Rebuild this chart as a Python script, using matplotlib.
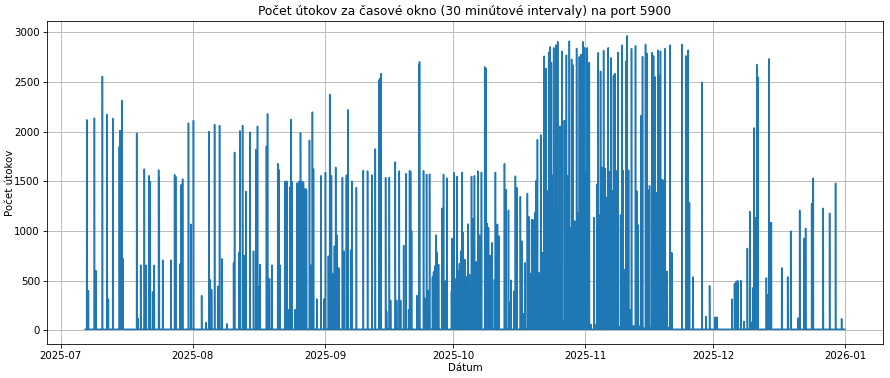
import matplotlib
matplotlib.use("Agg")
import matplotlib.pyplot as plt
import matplotlib.dates as mdates
import pandas as pd

# --- data (30-minute windows) ---
start_time = "2025-07-06 18:00"
end_time = "2025-12-31 22:00"
baseline_count = 12  # typical count in quiet windows

spike_times = [
    "2025-07-07 03:00", "2025-07-07 12:00", "2025-07-08 22:00", "2025-07-09 06:00",
    "2025-07-10 19:00", "2025-07-11 21:30", "2025-07-12 04:30", "2025-07-13 05:30",
    "2025-07-14 18:30", "2025-07-14 22:30", "2025-07-15 08:00", "2025-07-15 13:30",
    "2025-07-18 20:00", "2025-07-19 02:00", "2025-07-19 18:30", "2025-07-20 15:00",
    "2025-07-21 00:30", "2025-07-21 17:30", "2025-07-22 00:30", "2025-07-22 14:00",
    "2025-07-22 23:00", "2025-07-23 23:30", "2025-07-24 03:00", "2025-07-24 22:30",
    "2025-07-26 21:00", "2025-07-27 17:30", "2025-07-27 23:30", "2025-07-29 01:00",
    "2025-07-29 07:00", "2025-07-29 14:30", "2025-07-30 23:30", "2025-07-31 13:30",
    "2025-08-01 03:30", "2025-08-03 01:30", "2025-08-04 03:30", "2025-08-04 18:30",
    "2025-08-05 00:00", "2025-08-05 09:30", "2025-08-06 02:30", "2025-08-06 22:30",
    "2025-08-07 06:30", "2025-08-07 19:30", "2025-08-08 23:30", "2025-08-10 13:30",
    "2025-08-10 19:00", "2025-08-11 20:30", "2025-08-12 00:30", "2025-08-12 16:00",
    "2025-08-13 01:00", "2025-08-13 10:30", "2025-08-14 09:00", "2025-08-15 05:30",
    "2025-08-15 18:30", "2025-08-16 04:00", "2025-08-16 13:00", "2025-08-16 17:00",
    "2025-08-18 06:30", "2025-08-18 12:30", "2025-08-18 23:30", "2025-08-19 14:00",
    "2025-08-20 22:00", "2025-08-21 04:00", "2025-08-21 11:00", "2025-08-22 13:30",
    "2025-08-22 19:00", "2025-08-23 01:00", "2025-08-23 13:30", "2025-08-23 17:30",
    "2025-08-23 23:30", "2025-08-24 06:30", "2025-08-24 23:30", "2025-08-25 09:00",
    "2025-08-25 14:30", "2025-08-25 22:00", "2025-08-26 06:00", "2025-08-26 15:00",
    "2025-08-26 22:30", "2025-08-27 10:00", "2025-08-27 15:30", "2025-08-28 08:30",
    "2025-08-28 15:30", "2025-08-29 01:00", "2025-08-29 07:00", "2025-08-30 01:30",
    "2025-08-31 01:30", "2025-08-31 18:30", "2025-09-01 02:30", "2025-09-01 19:00",
    "2025-09-02 02:30", "2025-09-02 12:00", "2025-09-02 19:30", "2025-09-03 05:00",
    "2025-09-03 12:00", "2025-09-03 19:30", "2025-09-04 05:00", "2025-09-05 02:00",
    "2025-09-05 11:00", "2025-09-06 00:30", "2025-09-06 09:00", "2025-09-07 00:30",
    "2025-09-07 07:30", "2025-09-08 08:30", "2025-09-09 23:30", "2025-09-10 23:30",
    "2025-09-12 00:00", "2025-09-12 19:00", "2025-09-13 15:30", "2025-09-13 19:30",
    "2025-09-14 02:30", "2025-09-15 05:00", "2025-09-15 10:30", "2025-09-16 02:00",
    "2025-09-16 09:00", "2025-09-17 11:30", "2025-09-17 19:00", "2025-09-18 10:00",
    "2025-09-18 17:30", "2025-09-19 10:30", "2025-09-19 23:00", "2025-09-20 14:30",
    "2025-09-20 20:00", "2025-09-21 01:30", "2025-09-21 07:00", "2025-09-22 13:00",
    "2025-09-23 00:30", "2025-09-23 04:00", "2025-09-24 02:30", "2025-09-24 08:30",
    "2025-09-24 19:30", "2025-09-25 03:00", "2025-09-25 12:30", "2025-09-26 05:00",
    "2025-09-26 11:00", "2025-09-26 18:00", "2025-09-26 23:30", "2025-09-27 07:30",
    "2025-09-27 15:00", "2025-09-28 11:30", "2025-09-28 19:00", "2025-09-29 06:30",
    "2025-09-29 13:30", "2025-09-30 16:00", "2025-09-30 20:00", "2025-10-01 05:00",
    "2025-10-01 14:30", "2025-10-02 00:00", "2025-10-02 05:30", "2025-10-02 13:00",
    "2025-10-02 20:00", "2025-10-03 04:00", "2025-10-03 09:30", "2025-10-03 18:30",
    "2025-10-04 04:30", "2025-10-04 14:00", "2025-10-04 21:00", "2025-10-05 08:30",
    "2025-10-05 15:30", "2025-10-06 01:00", "2025-10-06 11:00", "2025-10-06 20:00",
    "2025-10-07 05:30", "2025-10-07 16:30", "2025-10-08 11:00", "2025-10-08 19:00",
    "2025-10-09 00:30", "2025-10-09 08:00", "2025-10-09 19:00", "2025-10-10 04:30",
    "2025-10-10 17:30", "2025-10-10 23:00", "2025-10-11 10:30", "2025-10-11 20:00",
    "2025-10-13 02:00", "2025-10-13 11:30", "2025-10-14 00:30", "2025-10-14 10:00",
    "2025-10-14 15:30", "2025-10-15 08:30", "2025-10-15 15:30", "2025-10-15 23:00",
    "2025-10-16 19:30", "2025-10-17 03:00", "2025-10-17 12:30", "2025-10-17 22:00",
    "2025-10-18 11:00", "2025-10-18 18:30", "2025-10-19 05:30", "2025-10-19 11:00",
    "2025-10-19 19:00", "2025-10-20 00:30", "2025-10-20 06:30", "2025-10-20 12:00",
    "2025-10-20 19:30", "2025-10-21 05:00", "2025-10-21 14:00", "2025-10-21 23:30",
    "2025-10-22 09:00", "2025-10-22 16:00", "2025-10-22 20:00", "2025-10-23 07:30",
    "2025-10-23 11:00", "2025-10-23 18:30", "2025-10-24 02:00", "2025-10-24 11:30",
    "2025-10-24 15:00", "2025-10-25 00:30", "2025-10-25 04:30", "2025-10-25 13:30",
    "2025-10-25 19:00", "2025-10-26 03:00", "2025-10-26 10:00", "2025-10-26 14:00",
    "2025-10-26 21:30", "2025-10-27 03:00", "2025-10-27 14:30", "2025-10-27 21:30",
    "2025-10-28 03:00", "2025-10-28 07:00", "2025-10-28 12:30", "2025-10-28 20:00",
    "2025-10-29 04:00", "2025-10-29 13:00", "2025-10-29 17:00", "2025-10-30 00:00",
    "2025-10-30 08:00", "2025-10-30 15:30", "2025-10-31 01:00", "2025-10-31 12:00",
    "2025-10-31 21:00", "2025-11-01 05:00", "2025-11-01 12:00", "2025-11-01 23:30",
    "2025-11-02 09:00", "2025-11-03 02:00", "2025-11-03 09:00", "2025-11-03 19:00",
    "2025-11-04 02:00", "2025-11-04 09:30", "2025-11-04 15:00", "2025-11-04 23:00",
    "2025-11-05 08:00", "2025-11-05 17:30", "2025-11-06 00:30", "2025-11-06 04:30",
    "2025-11-06 10:00", "2025-11-06 17:30", "2025-11-07 01:30", "2025-11-07 08:30",
    "2025-11-07 16:00", "2025-11-08 00:00", "2025-11-08 05:30", "2025-11-08 17:00",
    "2025-11-09 00:00", "2025-11-09 07:30", "2025-11-09 15:30", "2025-11-09 21:00",
    "2025-11-10 06:00", "2025-11-10 13:30", "2025-11-10 21:00", "2025-11-11 04:30",
    "2025-11-11 12:00", "2025-11-11 21:00", "2025-11-12 08:30", "2025-11-12 19:30",
    "2025-11-13 03:30", "2025-11-13 11:00", "2025-11-13 22:00", "2025-11-14 03:30",
    "2025-11-14 11:00", "2025-11-14 20:30", "2025-11-15 04:00", "2025-11-15 11:30",
    "2025-11-15 19:00", "2025-11-16 02:30", "2025-11-16 08:00", "2025-11-16 17:30",
    "2025-11-17 01:00", "2025-11-17 10:30", "2025-11-17 20:00", "2025-11-18 03:00",
    "2025-11-18 09:00", "2025-11-18 16:00", "2025-11-19 01:30", "2025-11-19 11:30",
    "2025-11-19 18:30", "2025-11-20 06:00", "2025-11-20 15:30", "2025-11-20 22:30",
    "2025-11-21 08:00", "2025-11-23 16:30", "2025-11-24 15:00", "2025-11-25 04:00",
    "2025-11-25 11:00", "2025-11-26 08:00", "2025-11-28 09:00", "2025-11-29 07:30",
    "2025-11-30 04:30", "2025-12-01 11:30", "2025-12-01 17:00", "2025-12-01 23:30",
    "2025-12-05 09:30", "2025-12-06 01:00", "2025-12-06 11:00", "2025-12-06 19:00",
    "2025-12-07 12:00", "2025-12-08 06:30", "2025-12-09 01:00", "2025-12-09 14:30",
    "2025-12-10 01:30", "2025-12-10 07:30", "2025-12-10 14:30", "2025-12-11 00:00",
    "2025-12-11 06:00", "2025-12-11 11:30", "2025-12-13 12:00", "2025-12-13 19:30",
    "2025-12-14 03:00", "2025-12-14 08:30", "2025-12-14 16:00", "2025-12-17 02:30",
    "2025-12-18 12:00", "2025-12-19 05:00", "2025-12-20 23:30", "2025-12-21 07:30",
    "2025-12-22 07:30", "2025-12-22 17:00", "2025-12-24 03:00", "2025-12-24 12:00",
    "2025-12-26 20:00", "2025-12-28 08:00", "2025-12-29 17:30", "2025-12-31 03:30",
]

spike_values = [
    2120, 400, 2137, 603,
    2558, 2174, 317, 2134,
    1850, 2012, 2316, 725,
    1985, 125, 657, 1625,
    657, 1557, 1500, 388,
    657, 1615, 1540, 708,
    708, 1567, 1550, 671,
    1466, 1524, 2087, 1069,
    2114, 350, 81, 2002,
    512, 411, 2073, 445,
    2063, 721, 67, 681,
    1793, 789, 2009, 2063,
    755, 1399, 1996, 799,
    1820, 2056, 445, 664,
    1854, 2181, 522, 657,
    1679, 1618, 657, 1497,
    1503, 1500, 209, 1443,
    2124, 1497, 209, 1483,
    1473, 1500, 1989, 1500,
    1490, 1429, 1416, 1915,
    657, 2198, 1625, 317,
    1557, 317, 1591, 748,
    2377, 1557, 573, 849,
    1642, 957, 630, 1540,
    799, 1564, 2221, 809,
    1503, 1439, 1611, 1605,
    1564, 1827, 2518, 2535,
    2585, 1540, 192, 1540,
    303, 1696, 303, 1605,
    303, 856, 1578, 209,
    1608, 1600, 1001, 350,
    2677, 2704, 1608, 327,
    1571, 401, 1574, 539,
    590, 647, 961, 782,
    664, 1230, 1571, 499,
    1534, 394, 927, 1588,
    519, 1551, 597, 674,
    799, 1591, 984, 715,
    539, 1072, 563, 1551,
    1126, 1557, 691, 1605,
    961, 1591, 2653, 2636,
    1075, 1035, 755, 883,
    512, 1591, 1069, 951,
    1679, 1416, 1210, 283,
    506, 394, 1554, 1439,
    1348, 900, 169, 681,
    1379, 1146, 573, 1116,
    1113, 951, 1187, 1507,
    1921, 580, 1969, 782,
    2761, 1584, 2636, 1406,
    2798, 2855, 2697, 1564,
    2845, 175, 2872, 2906,
    1203, 2056, 1632, 2811,
    100, 2114, 2771, 1557,
    81, 2913, 1035, 2730,
    2670, 1102, 70, 2838,
    1180, 2754, 2778, 2906,
    2845, 1571, 2845, 2697,
    60, 1136, 57, 1470,
    2795, 1160, 2609, 1642,
    2818, 1632, 1335, 590,
    2845, 1598, 2744, 1406,
    2569, 2585, 1608, 2798,
    40, 1163, 2872, 1611,
    613, 2710, 2966, 1611,
    209, 2838, 47, 2865,
    1402, 1062, 47, 2164,
    2757, 24, 2879, 2788,
    1412, 1456, 24, 2798,
    2764, 2552, 1389, 2822,
    2569, 2811, 1517, 1510,
    2838, 597, 30, 2872,
    782, 2879, 2764, 2822,
    1288, 539, 2497, 140,
    450, 133, 133, 133,
    315, 470, 495, 500,
    502, 90, 826, 1197,
    84, 428, 2039, 1136,
    2677, 2552, 529, 361,
    2734, 1085, 1085, 630,
    539, 1001, 125, 1210,
    927, 1028, 1278, 1534,
    1230, 1180, 1483, 118,
]

# --- build the series ---
windows = pd.date_range(start_time, end_time, freq="30min")
counts = pd.Series(baseline_count, index=windows, dtype=float)
counts.loc[pd.to_datetime(spike_times)] = spike_values

DPI = 890 / 12
fig, ax = plt.subplots(figsize=(12, 378 / DPI), dpi=DPI)
ax.plot(counts.index, counts.values, color="#1f77b4", linewidth=1.5)

ax.set_title("Počet útokov za časové okno (30 minútové intervaly) na port 5900", fontsize=12)
ax.set_xlabel("Dátum", fontsize=10, labelpad=2)
ax.set_ylabel("Počet útokov", fontsize=10, labelpad=-1)
ax.grid(True)
ax.xaxis.set_major_locator(mdates.MonthLocator())
ax.xaxis.set_major_formatter(mdates.DateFormatter("%Y-%m"))
ax.tick_params(labelsize=10)

fig.subplots_adjust(left=0.053, right=0.992, top=0.944, bottom=0.090)
fig.savefig("out.png", dpi=DPI)
